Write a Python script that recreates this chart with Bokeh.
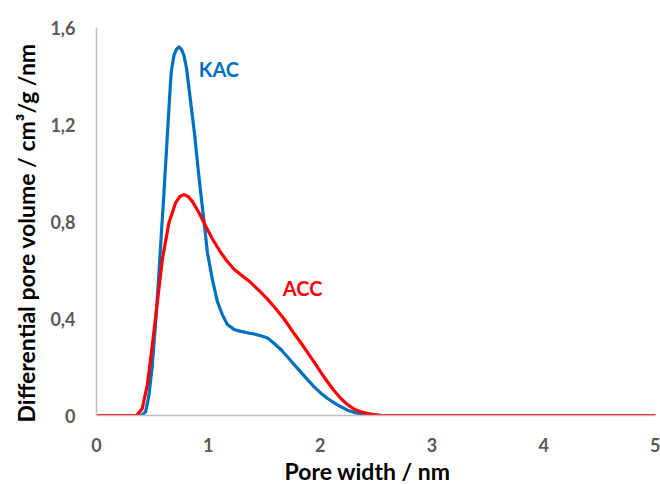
from bokeh.plotting import figure
from bokeh.models import FixedTicker, Label, Range1d, Title
from bokeh.embed import file_html
from bokeh.resources import INLINE

# KAC (blue) series
kac_x = [0.0, 0.40, 0.439, 0.469, 0.499, 0.529, 0.559, 0.580, 0.597, 0.615, 0.633,
         0.651, 0.669, 0.693, 0.715, 0.738, 0.760, 0.782, 0.806, 0.842, 0.878, 0.908,
         0.938, 0.968, 0.992, 1.037, 1.081, 1.126, 1.171, 1.230, 1.29, 1.35, 1.41,
         1.47, 1.53, 1.589, 1.649, 1.709, 1.768, 1.828, 1.887, 1.947, 2.007, 2.067,
         2.126, 2.186, 2.246, 2.306, 2.38, 2.455, 2.55, 3.0, 4.0, 5.0]
kac_y = [0.0, 0.0, 0.015, 0.083, 0.206, 0.384, 0.589, 0.75, 0.87, 1.010, 1.150,
         1.290, 1.420, 1.485, 1.510, 1.520, 1.510, 1.485, 1.430, 1.294, 1.157, 1.020,
         0.895, 0.775, 0.672, 0.560, 0.470, 0.415, 0.375, 0.355, 0.347, 0.341, 0.336,
         0.329, 0.320, 0.297, 0.272, 0.241, 0.210, 0.179, 0.148, 0.118, 0.092, 0.070,
         0.052, 0.036, 0.022, 0.012, 0.005, 0.001, 0.0, 0.0, 0.0, 0.0]

# ACC (red) series
acc_x = [0.0, 0.36, 0.409, 0.454, 0.499, 0.544, 0.589, 0.648, 0.708, 0.745, 0.782,
         0.820, 0.857, 0.917, 0.977, 1.037, 1.111, 1.17, 1.23, 1.30, 1.38, 1.455,
         1.53, 1.60, 1.678, 1.760, 1.828, 1.887, 1.947, 2.007, 2.067, 2.126, 2.186,
         2.246, 2.306, 2.365, 2.425, 2.485, 2.545, 2.65, 3.0, 4.0, 5.0]
acc_y = [0.0, 0.0, 0.029, 0.124, 0.288, 0.466, 0.644, 0.795, 0.877, 0.903, 0.911,
         0.903, 0.883, 0.836, 0.781, 0.728, 0.672, 0.635, 0.603, 0.577, 0.548, 0.515,
         0.480, 0.442, 0.398, 0.343, 0.300, 0.260, 0.220, 0.178, 0.138, 0.102, 0.070,
         0.045, 0.026, 0.015, 0.008, 0.004, 0.001, 0.0, 0.0, 0.0, 0.0]

x_ticks = [0, 1, 2, 3, 4, 5]
y_ticks = [0, 0.4, 0.8, 1.2, 1.6]
y_tick_labels = ["0", "0,4", "0,8", "1,2", "1,6"]

FONT = "Lato"
TICK_COLOR = "#595959"
AXIS_COLOR = "#BFBFBF"

p = figure(width=660, height=484, output_backend="svg", toolbar_location=None,
           x_range=Range1d(0, 5), y_range=Range1d(0, 1.6),
           min_border_left=96, min_border_right=5, min_border_top=27, min_border_bottom=0)

p.line(kac_x, kac_y, line_color="#0070C0", line_width=3.2, line_join="round")
p.line(acc_x, acc_y, line_color="#FF0000", line_width=3.2, line_join="round")

p.add_layout(Label(x=0.914, y=1.428, text="KAC", text_color="#0070C0", text_font=FONT,
                   text_font_style="bold", text_font_size="20px",
                   text_align="left", text_baseline="middle"))
p.add_layout(Label(x=1.667, y=0.525, text="ACC", text_color="#FF0000", text_font=FONT,
                   text_font_style="bold", text_font_size="20px",
                   text_align="left", text_baseline="middle"))

p.grid.visible = False
p.outline_line_color = None
p.background_fill_color = "white"
p.border_fill_color = "white"

for ax in (p.xaxis[0], p.yaxis[0]):
    ax.axis_line_color = AXIS_COLOR
    ax.axis_line_width = 1.5
    ax.major_tick_line_color = None
    ax.minor_tick_line_color = None
    ax.major_label_text_font = FONT
    ax.major_label_text_font_style = "bold"
    ax.major_label_text_font_size = "18px"
    ax.major_label_text_color = TICK_COLOR

p.xaxis.ticker = FixedTicker(ticks=x_ticks)
p.yaxis.ticker = FixedTicker(ticks=y_ticks)
p.yaxis.major_label_overrides = {t: s for t, s in zip(y_ticks, y_tick_labels)}
p.xaxis.major_label_standoff = 16
p.yaxis.major_label_standoff = 15

# axis titles as side-panel titles (so they can be placed off-centre like the reference)
p.add_layout(Title(text="Pore width  / nm", align="left", offset=188, standoff=0,
                   text_font=FONT, text_font_style="bold", text_font_size="23px",
                   text_color="#000000"), "below")
p.add_layout(Title(text="Differential  pore volume / cm³/g /nm", align="left", offset=-7,
                   standoff=16, text_font=FONT, text_font_style="bold",
                   text_font_size="23px", text_color="#000000"), "left")

open("out.html", "w").write(file_html(p, INLINE))
